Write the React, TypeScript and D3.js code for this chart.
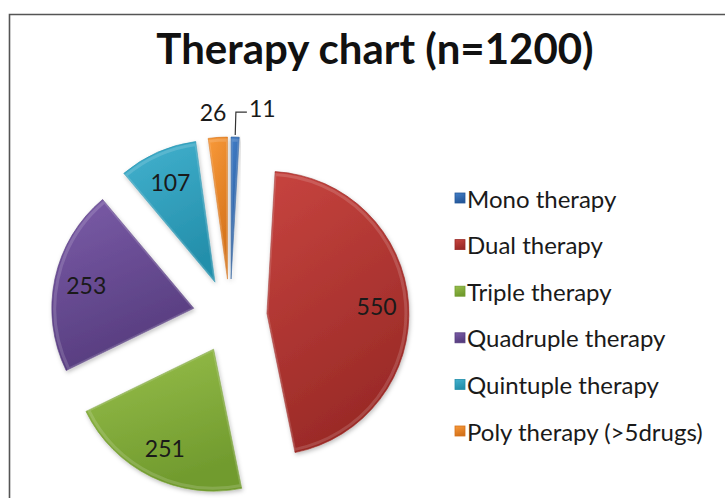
import * as d3 from "d3";

const categories = [
  "Mono therapy",
  "Dual therapy",
  "Triple therapy",
  "Quadruple therapy",
  "Quintuple therapy",
  "Poly therapy (>5drugs)",
];
const counts = [11, 550, 251, 253, 107, 26];
const title = "Therapy chart (n=1200)";

// light / dark ends of each slice's bevel-ish gradient
const lightColors = ["#437fc8", "#c7443f", "#98bf4c", "#7b5ca8", "#43b2cf", "#f99a3a"];
const darkColors = ["#25589a", "#9a2a27", "#719b2e", "#563c7e", "#248fab", "#d4721a"];

const W = 725;
const H = 498;
const cx = 230;
const cy = 316;
const R = 142;
const explode = 37;
const font = "Lato, 'Open Sans', sans-serif";

export default function App() {
  const pie = d3
    .pie<number>()
    .sort(null)
    .value((d) => d);
  const arcs = pie(counts);
  const arc = d3.arc<d3.PieArcDatum<number>>().innerRadius(0).outerRadius(R);
  const innerArc = d3
    .arc<d3.PieArcDatum<number>>()
    .innerRadius(0)
    .outerRadius(R - 3);

  const dir = (a: number) => [Math.sin(a), -Math.cos(a)];

  const legendY = d3
    .scalePoint<string>()
    .domain(categories)
    .range([198, 431]);

  const total = d3.sum(counts);

  return (
    <svg
      width={W}
      height={H}
      style={{ position: "fixed", left: 0, top: 0, background: "#fff" }}
    >
      <defs>
        {arcs.map((a, i) => (
          <linearGradient key={i} id={`g${i}`} x1="0" y1="0" x2="0.35" y2="1">
            <stop offset="0%" stopColor={lightColors[i]} />
            <stop offset="100%" stopColor={darkColors[i]} />
          </linearGradient>
        ))}
        <filter id="shadow" x="-20%" y="-20%" width="140%" height="140%">
          <feDropShadow dx="1" dy="2" stdDeviation="2" floodOpacity="0.25" />
        </filter>
      </defs>

      {/* frame */}
      <path
        d={`M 9.5 ${H} V 14.5 H ${W}`}
        fill="none"
        stroke="#555"
        strokeWidth={1.6}
      />

      <text
        x={375}
        y={64}
        textAnchor="middle"
        fontFamily={font}
        fontWeight={700}
        fontSize={42}
        fill="#111"
      >
        {title}
      </text>

      {/* slices */}
      {arcs.map((a, i) => {
        const mid = (a.startAngle + a.endAngle) / 2;
        const [dx, dy] = dir(mid);
        return (
          <g
            key={i}
            transform={`translate(${cx + dx * explode},${cy + dy * explode})`}
          >
            <path
              d={arc(a)!}
              fill={`url(#g${i})`}
              stroke={darkColors[i]}
              strokeOpacity={0.6}
              strokeWidth={1}
              filter="url(#shadow)"
            />
            <path
              d={innerArc(a)!}
              fill="none"
              stroke="#fff"
              strokeOpacity={0.15}
              strokeWidth={3}
            />
          </g>
        );
      })}

      {/* data labels */}
      {arcs.map((a, i) => {
        const mid = (a.startAngle + a.endAngle) / 2;
        const [dx, dy] = dir(mid);
        const ox = cx + dx * explode;
        const oy = cy + dy * explode;
        const share = a.value / total;
        if (share > 0.015) {
          const lr = share > 0.05 ? 110 : 167;
          return (
            <text
              key={i}
              x={ox + dx * lr - (share > 0.05 ? 0 : 3)}
              y={oy + dy * lr}
              textAnchor="middle"
              dominantBaseline="central"
              fontFamily={font}
              fontSize={23}
              fill="#1a1a1a"
            >
              {a.value}
            </text>
          );
        }
        const sx = ox + dx * (R + 2);
        const sy = oy + dy * (R + 2);
        const ex = ox + dx * (R + 25);
        const ey = oy + dy * (R + 25);
        return (
          <g key={i}>
            <path
              d={`M ${sx} ${sy} L ${ex} ${ey} H ${ex + 11}`}
              fill="none"
              stroke="#333"
              strokeWidth={1.2}
            />
            <text
              x={ex + 13}
              y={ey - 4}
              dominantBaseline="central"
              fontFamily={font}
              fontSize={23}
              fill="#1a1a1a"
            >
              {a.value}
            </text>
          </g>
        );
      })}

      {/* legend */}
      {categories.map((c, i) => {
        const y = legendY(c)!;
        return (
          <g key={c}>
            <rect
              x={455}
              y={y - 5}
              width={10}
              height={10}
              fill={`url(#g${i})`}
              stroke={darkColors[i]}
              strokeWidth={0.8}
            />
            <text
              x={467}
              y={y}
              dominantBaseline="central"
              fontFamily={font}
              fontSize={24}
              fill="#1a1a1a"
            >
              {c}
            </text>
          </g>
        );
      })}
    </svg>
  );
}
